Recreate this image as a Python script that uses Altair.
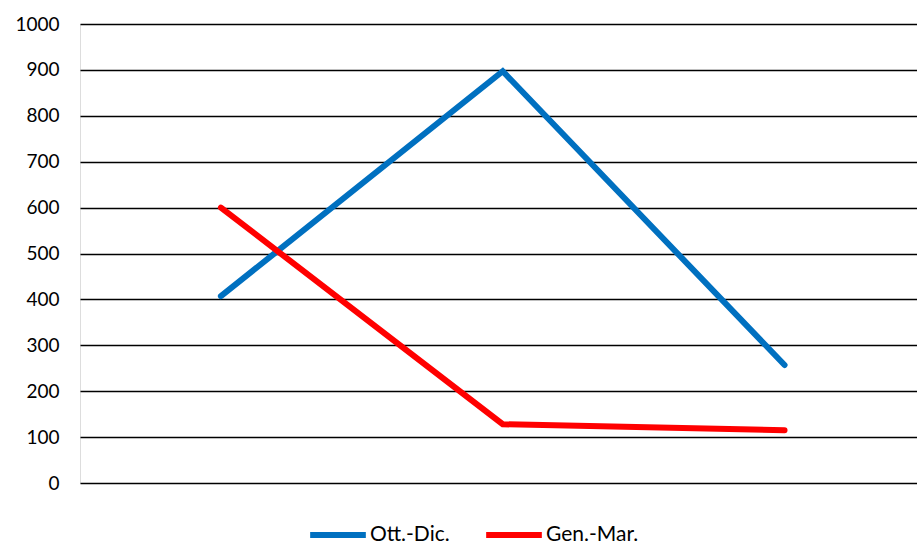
import altair as alt
import pandas as pd

# Three periods along the x axis (unlabelled), two seasonal series
periods = [0, 1, 2]
series_names = ["Ott.-Dic.", "Gen.-Mar."]
ott_dic = [407, 897, 257]
gen_mar = [600, 128, 115]
series_colors = ["#0070C0", "#FF0000"]

rows = []
for name, vals in zip(series_names, [ott_dic, gen_mar]):
    for p, v in zip(periods, vals):
        rows.append({"periodo": p, "serie": name, "valore": v})
df = pd.DataFrame(rows)

FONT = "Lato"

chart = (
    alt.Chart(df)
    .mark_line(strokeWidth=6, strokeCap="round", strokeJoin="miter")
    .encode(
        x=alt.X(
            "periodo:Q",
            scale=alt.Scale(domain=[-0.5, 2.47], nice=False, zero=False),
            axis=None,
        ),
        y=alt.Y(
            "valore:Q",
            scale=alt.Scale(domain=[0, 1000], nice=False),
            axis=alt.Axis(
                values=list(range(0, 1001, 100)),
                format="d",
                title=None,
                domain=False,
                ticks=False,
                grid=True,
                gridColor="#000000",
                gridWidth=1.3,
                labelPadding=21,
                labelFont=FONT,
                labelFontSize=19,
                labelColor="#000000",
            ),
        ),
        color=alt.Color(
            "serie:N",
            sort=series_names,
            scale=alt.Scale(domain=series_names, range=series_colors),
            legend=alt.Legend(
                title=None,
                orient="none",
                direction="horizontal",
                legendX=227,
                legendY=480,
                symbolType="stroke",
                symbolSize=3100,
                symbolStrokeWidth=6,
                labelFont=FONT,
                labelFontSize=21,
                labelColor="#000000",
                labelOffset=1,
                columnPadding=24,
            ),
        ),
    )
    .properties(
        width=837,
        height=459,
        autosize=alt.AutoSizeParams(type="none"),
        padding={"left": 80, "top": 24, "right": 0, "bottom": 61},
    )
    .configure_view(stroke=None)
    .configure(background="#FFFFFF")
)

chart.save("out.html", embed_options={"renderer": "svg", "actions": False})
